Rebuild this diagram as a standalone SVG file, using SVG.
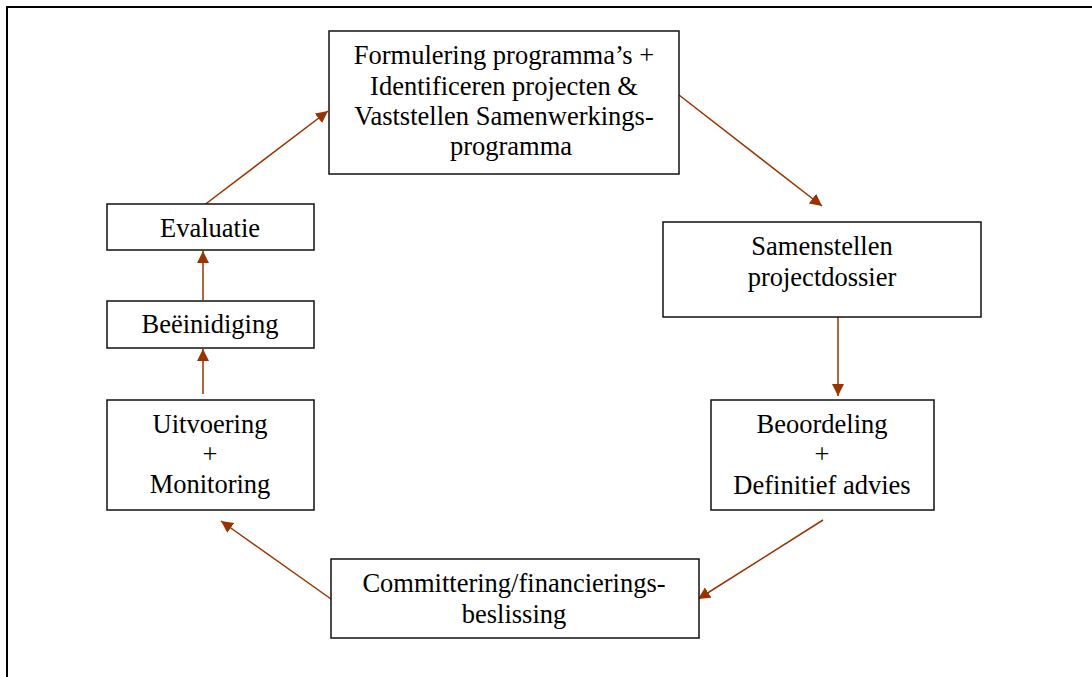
<svg xmlns="http://www.w3.org/2000/svg" width="1092" height="677" viewBox="0 0 1092 677">
<style>
  .box { fill: #ffffff; stroke: #111111; stroke-width: 1.5; }
  .lbl { font-family: "Liberation Serif", "Times New Roman", serif; font-size: 26.5px; fill: #000000; text-anchor: middle; }
  .conn { stroke: #993300; stroke-width: 1.5; fill: none; marker-end: url(#arr); }
</style>
<defs>
  <marker id="arr" markerUnits="userSpaceOnUse" markerWidth="14" markerHeight="14" refX="12" refY="6" orient="auto">
    <path d="M0,0 L12,6 L0,12 Z" fill="#993300"/>
  </marker>
</defs>
<rect x="0" y="0" width="1092" height="677" fill="#ffffff"/>
<polyline points="7,677 7,7 1092,7" fill="none" stroke="#000000" stroke-width="2"/>

<g id="connectors">
  <line class="conn" x1="679" y1="95" x2="822" y2="206"/>
  <line class="conn" x1="838" y1="317" x2="838" y2="396"/>
  <line class="conn" x1="823" y1="520" x2="698" y2="599"/>
  <line class="conn" x1="331" y1="599" x2="221" y2="521"/>
  <line class="conn" x1="203" y1="394" x2="203" y2="349"/>
  <line class="conn" x1="203" y1="300" x2="203" y2="251"/>
  <line class="conn" x1="203" y1="206" x2="328" y2="111"/>
</g>

<g id="node-formulering">
  <rect class="box" x="329" y="31" width="350" height="143"/>
  <text class="lbl" x="504" y="64">Formulering programma’s +</text>
  <text class="lbl" x="504" y="95">Identificeren projecten &amp;</text>
  <text class="lbl" x="504" y="125">Vaststellen Samenwerkings-</text>
  <text class="lbl" x="511" y="155">programma</text>
</g>

<g id="node-samenstellen">
  <rect class="box" x="663" y="222" width="318" height="95"/>
  <text class="lbl" x="822" y="255">Samenstellen</text>
  <text class="lbl" x="822" y="286">projectdossier</text>
</g>

<g id="node-beoordeling">
  <rect class="box" x="711" y="400" width="223" height="110"/>
  <text class="lbl" x="822" y="433">Beoordeling</text>
  <text class="lbl" x="822" y="463">+</text>
  <text class="lbl" x="822" y="494">Definitief advies</text>
</g>

<g id="node-committering">
  <rect class="box" x="331" y="559" width="368" height="79"/>
  <text class="lbl" x="514" y="592">Committering/financierings-</text>
  <text class="lbl" x="514" y="623">beslissing</text>
</g>

<g id="node-uitvoering">
  <rect class="box" x="107" y="400" width="207" height="110"/>
  <text class="lbl" x="210" y="433">Uitvoering</text>
  <text class="lbl" x="210" y="463">+</text>
  <text class="lbl" x="210" y="493">Monitoring</text>
</g>

<g id="node-beeindiging">
  <rect class="box" x="107" y="301" width="207" height="47"/>
  <text class="lbl" x="210" y="333">Beëinidiging</text>
</g>

<g id="node-evaluatie">
  <rect class="box" x="107" y="204" width="207" height="46"/>
  <text class="lbl" x="210" y="237">Evaluatie</text>
</g>
</svg>
